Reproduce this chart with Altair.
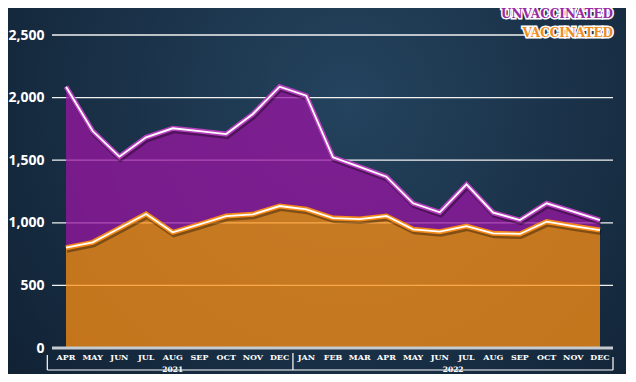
import altair as alt
import pandas as pd

months = ["APR", "MAY", "JUN", "JUL", "AUG", "SEP", "OCT", "NOV", "DEC",
          "JAN", "FEB", "MAR", "APR", "MAY", "JUN", "JUL", "AUG", "SEP", "OCT", "NOV", "DEC"]
years = ["2021"] * 9 + ["2022"] * 12
unvaccinated = [2087, 1733, 1528, 1683, 1755, 1733, 1709, 1869, 2087,
                2015, 1523, 1446, 1368, 1156, 1084, 1307, 1081, 1022, 1156, 1089, 1022]
vaccinated = [801, 844, 956, 1070, 924, 988, 1054, 1068, 1134,
              1108, 1038, 1030, 1054, 948, 929, 974, 916, 911, 1009, 974, 942]
y_ticks = [0, 500, 1000, 1500, 2000, 2500]
legend_labels = ["UNVACCINATED", "VACCINATED"]

df = pd.DataFrame({
    "idx": list(range(len(months))),
    "month": months,
    "year": years,
    "unvacc": unvaccinated,
    "vacc": vaccinated,
})

W, H = 561, 313
x_dom = [-0.524, 20.487]
xscale = alt.Scale(domain=x_dom, nice=False, zero=False)
yscale = alt.Scale(domain=[0, 2500], nice=False)

yaxis = alt.Axis(values=y_ticks, format=",.0f", grid=False, ticks=False, domain=False,
                 labelColor="white", labelFont="Open Sans", labelFontWeight="bold",
                 labelFontSize=14, labelPadding=8, title=None, zindex=1)

X = alt.X("idx:Q", scale=xscale, axis=None)

def Y(field):
    return alt.Y(field, scale=yscale, axis=yaxis)

base = alt.Chart(df)

bg = alt.Chart(pd.DataFrame({"a": [0]})).mark_rect(
    color=alt.Gradient(
        gradient="radial",
        stops=[alt.GradientStop(color="#24435e", offset=0),
               alt.GradientStop(color="#0d1b2c", offset=1)],
        x1=0.55, y1=0.35, x2=0.55, y2=0.35, r1=0, r2=0.85,
    )
).encode(x=alt.value(-44), x2=alt.value(W + 13), y=alt.value(-27), y2=alt.value(H + 26))

grid = alt.Chart(pd.DataFrame({"t": y_ticks[1:]})).mark_rule(
    color="#f2f2f2", strokeWidth=1.3).encode(
    x=alt.value(0), x2=alt.value(W), y=Y("t:Q"))

purple_area = base.mark_area(color="#9a15a3", opacity=0.75).encode(
    x=X, y=Y("unvacc:Q"), y2=alt.Y2("vacc:Q"))
orange_area = base.mark_area(color="#ff9013", opacity=0.75).encode(
    x=X, y=Y("vacc:Q"))

def line_set(field, outline):
    shadow = base.mark_line(color="black", opacity=0.35, strokeWidth=5,
                            xOffset=1, yOffset=2.5, strokeJoin="miter").encode(x=X, y=Y(field))
    out = base.mark_line(color=outline, strokeWidth=5, strokeJoin="miter").encode(x=X, y=Y(field))
    core = base.mark_line(color="white", strokeWidth=1.8, strokeJoin="miter").encode(x=X, y=Y(field))
    return [shadow, out, core]

zero_rule = alt.Chart(pd.DataFrame({"v": [0]})).mark_rule(
    color="#c5cad0", strokeWidth=3).encode(
    x=alt.value(0), x2=alt.value(W), y=Y("v:Q"))

month_text = base.mark_text(font="DejaVu Serif", fontWeight="bold", fontSize=8,
                            color="white", baseline="middle").encode(
    x=X, y=alt.value(H + 10), text="month:N")

# bracket under the axis
LINE_Y = H + 22
def vrule(pos, top):
    return alt.Chart(pd.DataFrame({"b": [pos]})).mark_rule(color="white", strokeWidth=1.2).encode(
        x=alt.X("b:Q", scale=xscale, axis=None), y=alt.value(top), y2=alt.value(LINE_Y))

vrules = [vrule(-0.7, H + 7), vrule(8.5, H + 5), vrule(x_dom[1], H + 9)]
hrule = alt.Chart(pd.DataFrame({"a": [-0.7], "b": [x_dom[1]]})).mark_rule(
    color="white", strokeWidth=1.2).encode(
    x=alt.X("a:Q", scale=xscale, axis=None), x2="b:Q", y=alt.value(LINE_Y))

yr = df.groupby("year", as_index=False)["idx"].mean()
year_text = alt.Chart(yr).mark_text(font="DejaVu Serif", fontWeight="bold", fontSize=7.5,
                                    color="white", baseline="middle").encode(
    x=alt.X("idx:Q", scale=xscale, axis=None), y=alt.value(LINE_Y), text="year:N")

def legend_text(label, col, py):
    d = alt.Chart(pd.DataFrame({"label": [label]}))
    outline = d.mark_text(font="DejaVu Serif", fontWeight="bold", fontSize=12,
                          align="right", baseline="middle", stroke="white",
                          strokeWidth=3, fill="white").encode(
        x=alt.value(W), y=alt.value(py), text="label:N")
    fill = d.mark_text(font="DejaVu Serif", fontWeight="bold", fontSize=12,
                       align="right", baseline="middle", color=col).encode(
        x=alt.value(W), y=alt.value(py), text="label:N")
    return [outline, fill]

layers = [bg, grid, purple_area, orange_area] + line_set("unvacc", "#b53fbd") + \
    line_set("vacc", "#f48a1a") + [zero_rule, month_text] + vrules + [hrule, year_text] + \
    legend_text(legend_labels[0], "#9b2aa6", -21) + legend_text(legend_labels[1], "#f08c1c", -2)

chart = alt.layer(*layers).properties(
    width=W, height=H,
    padding={"left": 44, "top": 27, "right": 13, "bottom": 26},
    autosize=alt.AutoSizeParams(type="none"),
    background="#13263a",
).configure_view(stroke=None)

chart.save("out.html", embed_options={"renderer": "svg", "actions": False})
